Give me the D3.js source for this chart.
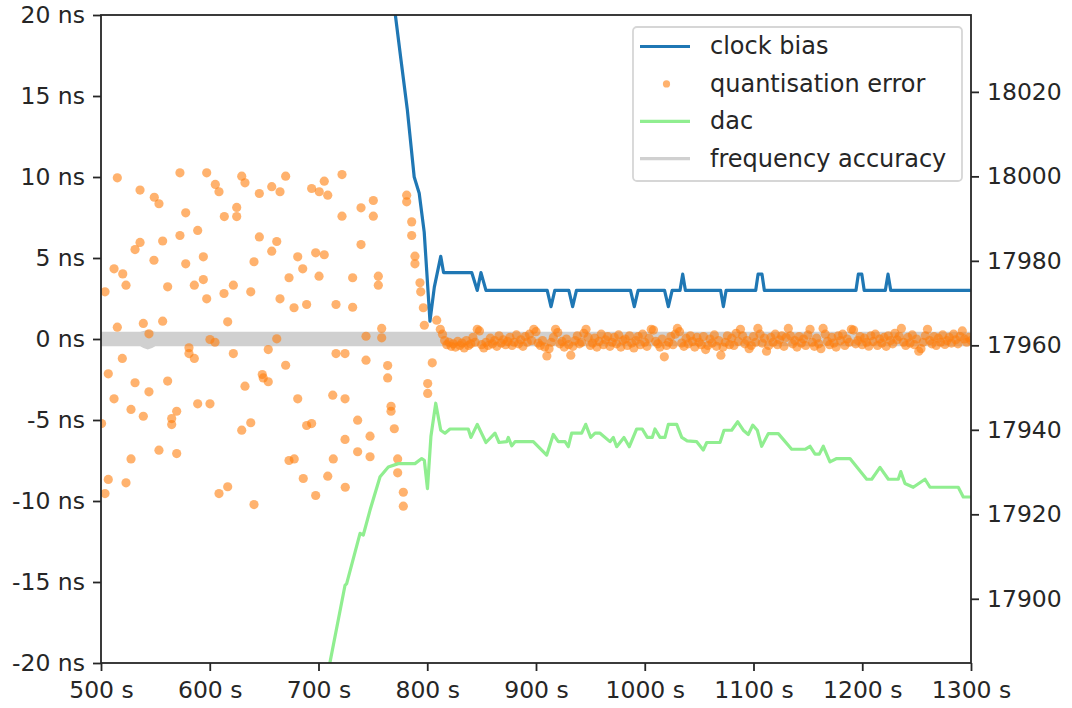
<!DOCTYPE html>
<html>
<head>
<meta charset="utf-8">
<script src="https://cdn.jsdelivr.net/npm/d3@7/dist/d3.min.js"></script>
<style>
body{margin:0;background:#fff;}
svg text{font-family:"DejaVu Sans",sans-serif;}
.tick text{font-size:23.5px;fill:#262626;}
.tick line{stroke:#262626;stroke-width:1.8px;}
</style>
</head>
<body>
<script>
//clock bias (left axis, ns)
var biasT = [766,770.3,775.8,781.6,788,792.6,797.2,802.5,806.5,812.4,815,840.9,846,849.4,854,
	910.3,913.8,917.3,930.2,933.7,937.2,986.9,990.4,993.9,1018.2,1021.7,1025.2,1032.4,1034.9,1037.4,
	1069.8,1072.3,1074.8,1102,1104.2,1107.8,1110,1194.2,1196.4,1199.6,1201.8,1221.2,1223.7,1226.2,1300];
var biasNs = [22.5,20.2,17.25,14.2,10,9,6.6,1.1,3.2,5.1,4.1,4.1,3,4.1,3,
	3,2,3,3,2,3,3,2,3,3,2,3,3,4,3,
	3,2,3,3,4,4,3,3,4,4,3,3,4,3,3];

//dac (right axis)
var dacT = [707,710.6,724.4,725.9,738.2,741.2,747.4,756.6,764.2,773.4,788.7,794.9,797.3,800.2,803.4,807.8,
	812.4,816.3,820.9,837.7,840.2,846,854,862.3,866,873.1,874.5,877.7,880.7,897.5,909.8,915.9,920.5,926.7,
	929.7,932.8,942,945.7,950.3,954.3,958.9,968,971.1,974.2,980.9,985.8,992.6,997.7,1002.3,1006.9,1009.4,
	1014,1018.6,1021.7,1029.4,1034,1039,1047.8,1053.8,1057,1069.2,1072.9,1079.9,1085.5,1090.6,1095.2,1099.3,
	1103.5,1107.5,1113.6,1122.8,1135.1,1147.4,1152,1156.6,1160.5,1164.2,1170.3,1176.5,1188.7,1204.1,1208.7,
	1216.3,1224,1233.1,1235.4,1239.3,1246.9,1257.7,1262.3,1288.3,1292.9,1300];
var dacVal = [17880,17885,17903.2,17903.6,17915.5,17915.1,17921,17928.9,17931.2,17932,17932,17933.2,17932.8,17926.1,17938.5,17946.3,
	17939.9,17939.2,17940.2,17940.2,17938.2,17941.3,17937,17939.2,17937,17937.2,17938.2,17936.2,17937.2,17937.2,17934,17938.9,17937.2,17937.2,
	17936,17939.2,17939.2,17941.3,17938.2,17939.2,17939.2,17937.2,17938.2,17936,17938.2,17936,17940.2,17940.2,17938.2,17938.2,17940.2,
	17938.2,17938.2,17941.3,17941.3,17938.2,17937.4,17937.2,17935.2,17937,17937,17939.9,17939.9,17941.9,17939.9,17938.9,17941.1,
	17939.9,17936.1,17939.1,17939.1,17935.4,17935.4,17936.1,17934.25,17934.25,17936.1,17932.4,17933.2,17933.2,17928.3,17928.3,
	17931.1,17928.3,17928.3,17930.1,17927.3,17926.4,17928.3,17926.4,17926.4,17924.1,17924.1];

//quantisation error before lock (ns)
var quantT = [515,535.9,549,553.3,572.6,577.9,588.9,572.6,597.2,605.1,608.5,613.4,624.8,624.8,629.4,632.4,645.6,645.6,657,664.6,
	669.8,661.6,693.7,700.7,705.3,708.5,721.6,721.6,739.1,750.4,750.4,781.1,781.1,785.7,785.7,556.7,535.9,503.7,512,520,
	523,531.3,515,538.9,544.1,548.7,556.7,561.3,577.9,585.8,594.1,594.1,597.2,613.1,616.5,621.7,637.7,640.7,657,664.6,
	672.9,677.5,680.9,685.5,689.1,697.4,705.3,700.5,716.1,731.4,731.4,739.1,755,755,758.1,758.1,743.7,788.7,788.7,793.3,
	794,796.4,797.3,808.7,600.2,604.8,580.9,580.9,585.8,519.6,506.7,531.3,544.1,512,527.6,538.9,561.3,569.6,565,565,
	588.9,600.2,621.7,632.4,637.7,629.4,648.3,649.2,653.8,653.8,661.6,669.8,680.9,689.1,693.7,716.1,724.4,743.7,713.1,724.4,
	736,747.4,724.4,763.6,763.6,766.7,766.7,769.7,800.4,800.4,804.6,503.7,506.7,523,527.6,553.3,569.6,608.5,616.5,640.7,
	672.9,677.7,686,697.4,708.5,713.6,724.6,736,747.4,772.8,772.8,778,778,500.5];
var quantNs = [9.95,9.19,8.75,8.35,10.26,7.79,6.7,6.39,10.26,9.54,9.09,7.56,8.12,7.56,10.05,9.64,8.98,6.3,9.4,9.09,
	10.05,6.02,9.29,9.09,9.74,8.88,10.15,7.58,8.1,8.55,7.58,8.88,8.47,7.23,6.39,6.05,5.96,2.91,4.33,4.02,
	3.32,5.52,0.73,0.96,0.32,4.86,1.1,3.22,4.64,3.32,5.07,3.67,2.48,2.81,1.06,3.32,2.91,4.77,5.42,2.48,
	3.78,1.93,5.07,4.33,2.13,5.32,5.2,3.88,2.13,3.78,1.96,5.83,3.88,3.32,0.65,0.07,0.17,5.11,4.64,3.47,
	2.91,1.93,0.85,1.16,-0.03,-0.2,-0.54,-0.9,-1.2,-1.2,-2.15,-2.7,-3.26,-3.69,-4.35,-4.77,-2.6,-4.46,-4.91,-5.28,
	-4,-4,-0.9,-2.91,-5.17,-5.63,-2.19,-2.4,-2.64,-0.65,0.01,-1.62,-3.69,-5.34,-5.22,-0.9,-0.9,-1.31,-3.47,-3.69,
	-5.01,-6,-6.2,-1.64,-2.4,-4.15,-4.46,-5.54,-2.75,-3.36,-1.47,-9.54,-8.67,-8.88,-7.4,-6.86,-7.07,-9.54,-9.12,-10.22,
	-7.5,-7.4,-8.61,-9.66,-8.47,-7.4,-9.15,-6.96,-7.27,-7.4,-8.26,-9.46,-10.32,-5.22];

//quantisation error after lock, one sample every 2 s from 812 s (ns)
var lockStart = 812, lockStep = 2;
var lockNs = [0.6,0.3,-0.1,-0.35,-0.2,-0.45,-0.3,-0.5,-0.15,-0.4,
	-0.25,-0.55,-0.1,-0.4,-0.3,0.1,-0.2,0.6,0.5,-0.35,
	-0.55,-0.2,-0.4,0.05,-0.3,-0.1,-0.45,0.2,-0.25,-0.05,
	-0.35,-0.15,0.1,-0.4,-0.2,0.25,-0.3,-0.05,-0.45,0.15,
	-0.2,0.3,-0.1,0.6,0.45,-0.25,-0.4,-0.1,-0.5,-1.05,
	-0.6,-0.2,0.1,0.6,0.4,-0.3,-0.15,-0.5,0,-0.35,
	-1,-0.45,-0.1,0.2,-0.3,-0.2,0.35,0.6,0.1,-0.4,
	-0.25,0.05,-0.5,-0.15,0.3,-0.35,-0.05,0.15,-0.45,-0.2,
	0.1,-0.3,0.25,-0.5,-0.1,0,-0.4,0.2,-0.25,-0.55,
	-0.1,0.15,-0.35,0.3,-0.2,-0.45,0.05,0.6,0.55,-0.15,
	-0.3,-0.5,0,-1.1,-0.4,-0.2,0.15,-0.35,0.3,0.65,
	0.45,-0.25,-0.45,0.05,-0.3,0.2,-0.15,-0.5,0.1,-0.2,
	-0.35,0.15,-0.65,-0.4,0,-0.25,0.25,-0.45,-0.1,-1,
	-0.5,-0.2,0.2,-0.35,0.05,-0.4,0.35,-0.15,0.6,0.2,
	-0.3,-0.1,-0.6,-0.4,0.15,-0.2,0.65,0.3,-0.25,0.05,
	-0.75,-0.4,0.1,-0.2,0.3,-0.35,-0.05,0.2,-0.45,0.1,
	0.65,0.2,-0.3,-0.1,-0.5,0.15,-0.25,0,-0.4,0.25,
	0.6,-0.2,-0.45,0.05,-0.3,-0.6,0.65,0.3,-0.15,-0.35,
	0.1,-0.25,-0.5,0.2,-0.1,0.3,-0.4,0,-0.2,0.6,
	0.55,-0.3,-0.1,0.15,-0.35,0.05,-0.2,-0.44,0.2,-0.15,
	0.3,-0.4,0,-0.25,0.1,-0.45,0.2,-0.1,-0.3,0.35,
	-0.05,0.15,0.65,-0.2,-0.4,0.1,-0.25,0.25,-0.35,0,
	-0.75,-0.6,-0.2,0.2,0.6,-0.1,-0.3,0.15,-0.4,0.05,
	-0.2,0.25,-0.34,-0.1,0.1,-0.25,0.3,-0.05,-0.3,0.15,
	0.5,0,-0.2,0.1,-0.1];

//frequency accuracy band (ns)
var freqT = [500,536,539,543,547,550,1300];
var freqHi = [0.45,0.45,0.5,0.55,0.5,0.45,0.45];
var freqLo = [-0.45,-0.45,-0.55,-0.65,-0.55,-0.45,-0.45];

//tick values
var xTicks = [500,600,700,800,900,1000,1100,1200,1300];
var yTicks = [-20,-15,-10,-5,0,5,10,15,20];
var dacTicks = [17900,17920,17940,17960,17980,18000,18020];

var legendLabels = ["clock bias","quantisation error","dac","frequency accuracy"];

window.onload = setChart();

function setChart(){
	var width = 1072,
		height = 708,
		left = 101,
		right = 971,
		top = 15,
		bottom = 663;

	var svg = d3.select("body")
		.append("svg")
		.attr("width", width)
		.attr("height", height);

	//scales
	var x = d3.scaleLinear().domain([500, 1300]).range([left, right]);
	var y = d3.scaleLinear().domain([-20, 20]).range([bottom, top]);
	var y2 = d3.scaleLinear().domain([17884.8, 18038.2]).range([bottom, top]);

	svg.append("clipPath")
		.attr("id", "plotClip")
		.append("rect")
		.attr("x", left)
		.attr("y", top)
		.attr("width", right - left)
		.attr("height", bottom - top);

	var plot = svg.append("g").attr("clip-path", "url(#plotClip)");

	//frequency accuracy band
	var freqData = freqT.map(function(t, i){ return {t: t, hi: freqHi[i], lo: freqLo[i]}; });
	plot.append("path")
		.datum(freqData)
		.attr("fill", "#d0d0d0")
		.attr("d", d3.area()
			.x(function(d){ return x(d.t); })
			.y0(function(d){ return y(d.lo); })
			.y1(function(d){ return y(d.hi); }));

	//quantisation error dots
	var quant = quantT.map(function(t, i){ return {t: t, v: quantNs[i]}; });
	lockNs.forEach(function(v, i){ quant.push({t: lockStart + i * lockStep, v: v}); });
	plot.selectAll(".quant")
		.data(quant)
		.enter()
		.append("circle")
		.attr("class", "quant")
		.attr("cx", function(d){ return x(d.t); })
		.attr("cy", function(d){ return y(d.v); })
		.attr("r", 4.6)
		.attr("fill", "#ff7f0e")
		.attr("fill-opacity", 0.6);

	//clock bias line
	var bias = biasT.map(function(t, i){ return {t: t, v: biasNs[i]}; });
	plot.append("path")
		.datum(bias)
		.attr("fill", "none")
		.attr("stroke", "#1f77b4")
		.attr("stroke-width", 3.2)
		.attr("stroke-linejoin", "round")
		.attr("d", d3.line()
			.x(function(d){ return x(d.t); })
			.y(function(d){ return y(d.v); }));

	//dac line on right axis
	var dac = dacT.map(function(t, i){ return {t: t, v: dacVal[i]}; });
	plot.append("path")
		.datum(dac)
		.attr("fill", "none")
		.attr("stroke", "#90ee90")
		.attr("stroke-width", 3.2)
		.attr("stroke-linejoin", "round")
		.attr("d", d3.line()
			.x(function(d){ return x(d.t); })
			.y(function(d){ return y2(d.v); }));

	//axes
	var xAxis = svg.append("g")
		.attr("transform", "translate(0," + bottom + ")")
		.call(d3.axisBottom(x).tickValues(xTicks).tickSize(8).tickPadding(8)
			.tickFormat(function(d){ return d + " s"; }));
	xAxis.selectAll(".tick text").attr("dy", "0.79em");

	var yAxis = svg.append("g")
		.attr("transform", "translate(" + left + ",0)")
		.call(d3.axisLeft(y).tickValues(yTicks).tickSize(8).tickPadding(8)
			.tickFormat(function(d){ return d + " ns"; }));

	var y2Axis = svg.append("g")
		.attr("transform", "translate(" + right + ",0)")
		.call(d3.axisRight(y2).tickValues(dacTicks).tickSize(8).tickPadding(8)
			.tickFormat(d3.format("d")));

	svg.selectAll(".domain").remove();
	svg.selectAll(".tick text").attr("font-family", null);

	//frame
	svg.append("rect")
		.attr("x", left)
		.attr("y", top)
		.attr("width", right - left)
		.attr("height", bottom - top)
		.attr("fill", "none")
		.attr("stroke", "#262626")
		.attr("stroke-width", 1.8);

	//legend
	var lx = right - 338,
		ly = top + 12,
		rowH = 37.4;
	var legend = svg.append("g");
	legend.append("rect")
		.attr("x", lx)
		.attr("y", ly)
		.attr("width", 329)
		.attr("height", 154)
		.attr("rx", 4)
		.attr("fill", "#fff")
		.attr("fill-opacity", 0.8)
		.attr("stroke", "#d6d6d6")
		.attr("stroke-width", 1.8);

	var styles = [
		{type: "line", color: "#1f77b4"},
		{type: "dot", color: "#ff7f0e"},
		{type: "line", color: "#90ee90"},
		{type: "line", color: "#d0d0d0"}
	];

	legendLabels.forEach(function(label, i){
		var cy = ly + 19.5 + i * rowH;
		if (styles[i].type == "line"){
			legend.append("line")
				.attr("x1", lx + 7)
				.attr("x2", lx + 57)
				.attr("y1", cy)
				.attr("y2", cy)
				.attr("stroke", styles[i].color)
				.attr("stroke-width", 3.2);
		} else {
			legend.append("circle")
				.attr("cx", lx + 33.5)
				.attr("cy", cy)
				.attr("r", 3.6)
				.attr("fill", styles[i].color)
				.attr("fill-opacity", 0.6);
		}
		legend.append("text")
			.attr("x", lx + 77)
			.attr("y", cy)
			.attr("dy", "0.33em")
			.attr("font-size", "24px")
			.attr("fill", "#262626")
			.text(label);
	});
};
</script>
</body>
</html>
